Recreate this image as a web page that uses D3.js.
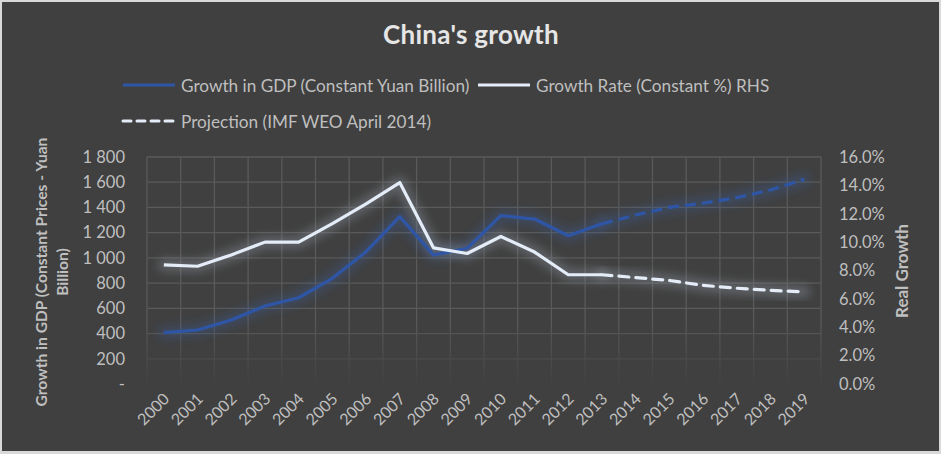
<!DOCTYPE html>
<html>
<head>
<meta charset="utf-8">
<script src="https://cdn.jsdelivr.net/npm/d3@7"></script>
<style>
  html, body { margin: 0; padding: 0; background: #d9d9d9; }
  svg { display: block; font-family: Lato, "Open Sans", sans-serif; }
</style>
</head>
<body>
<main></main>
<script>
const years = ['2000', '2001', '2002', '2003', '2004', '2005', '2006', '2007', '2008', '2009',
  '2010', '2011', '2012', '2013', '2014', '2015', '2016', '2017', '2018', '2019'];

// GDP growth, constant yuan billion
const gdpYears = years.slice(0, 14);
const gdpValues = [407, 428, 507, 618, 684, 838, 1049, 1327, 1023, 1076, 1335, 1308, 1176, 1270];
const gdpProjYears = years.slice(13);
const gdpProjValues = [1270, 1340, 1401, 1433, 1478, 1538, 1623];

// real growth rate, %
const rateYears = years.slice(0, 14);
const rateValues = [8.4, 8.3, 9.1, 10.0, 10.0, 11.3, 12.7, 14.2, 9.6, 9.2, 10.4, 9.3, 7.7, 7.7];
const rateProjYears = years.slice(13);
const rateProjValues = [7.7, 7.5, 7.3, 6.95, 6.75, 6.6, 6.5];

const leftTicks = [0, 200, 400, 600, 800, 1000, 1200, 1400, 1600, 1800];
const rightTicks = [0, 2, 4, 6, 8, 10, 12, 14, 16];

const width = 941;
const height = 454;
const plot = { left: 147, right: 821, top: 157, bottom: 384 };

const blue = '#2f56a6';
const white = '#e3ecf7';
const textColor = '#bfbfbf';

const svg = d3.select('main')
  .append('svg')
  .attr('width', width)
  .attr('height', height);

svg.append('rect')
  .attr('x', 2).attr('y', 2)
  .attr('width', width - 4).attr('height', height - 5)
  .attr('fill', '#404040');

const defs = svg.append('defs');

const fade = defs.append('linearGradient')
  .attr('id', 'fade')
  .attr('gradientUnits', 'userSpaceOnUse')
  .attr('x1', 0).attr('y1', 320).attr('x2', 0).attr('y2', 388);
fade.append('stop').attr('offset', 0).attr('stop-color', '#fff');
fade.append('stop').attr('offset', 1).attr('stop-color', '#000');
defs.append('mask')
  .attr('id', 'gridMask')
  .attr('maskUnits', 'userSpaceOnUse')
  .append('rect')
  .attr('x', 0).attr('y', 0).attr('width', width).attr('height', height)
  .attr('fill', 'url(#fade)');

defs.append('filter')
  .attr('id', 'blur')
  .attr('x', '-20%').attr('y', '-50%').attr('width', '140%').attr('height', '200%')
  .append('feGaussianBlur')
  .attr('stdDeviation', 5);

const x = d3.scalePoint()
  .domain(years)
  .range([plot.left, plot.right])
  .padding(0.5);

const step = x.step();

const yLeft = d3.scaleLinear()
  .domain([0, 1800])
  .range([plot.bottom, plot.top]);

const yRight = d3.scaleLinear()
  .domain([0, 16])
  .range([plot.bottom, plot.top]);

// grid
const grid = svg.append('g')
  .attr('mask', 'url(#gridMask)')
  .attr('stroke', '#5a5a5a')
  .attr('stroke-width', 1.3);

grid.selectAll('line.h')
  .data(leftTicks)
  .join('line')
  .attr('x1', plot.left).attr('x2', plot.right)
  .attr('y1', d => yLeft(d)).attr('y2', d => yLeft(d));

grid.selectAll('line.v')
  .data(years.concat(['end']))
  .join('line')
  .attr('x1', (d, i) => plot.left + i * step)
  .attr('x2', (d, i) => plot.left + i * step)
  .attr('y1', plot.top).attr('y2', plot.bottom);

// axes
const leftAxis = svg.append('g')
  .attr('transform', `translate(${plot.left - 22},0)`)
  .call(d3.axisLeft(yLeft).tickValues(leftTicks).tickSize(0).tickPadding(0)
    .tickFormat(d => (d === 0 ? '-' : d3.format(',')(d).replace(',', ' '))));

const rightAxis = svg.append('g')
  .attr('transform', `translate(${plot.right + 18},0)`)
  .call(d3.axisRight(yRight).tickValues(rightTicks).tickSize(0).tickPadding(0)
    .tickFormat(d => d3.format('.1f')(d) + '%'));

const bottomAxis = svg.append('g')
  .attr('transform', `translate(0,${plot.bottom + 10})`)
  .call(d3.axisBottom(x).tickSize(0).tickPadding(0));

bottomAxis.selectAll('text')
  .attr('text-anchor', 'end')
  .attr('dy', 0)
  .attr('transform', 'translate(6,6) rotate(-45)');

[leftAxis, rightAxis, bottomAxis].forEach(a => {
  a.select('.domain').remove();
  a.selectAll('text')
    .attr('fill', textColor)
    .attr('font-size', 16.5)
    .attr('font-family', 'Lato, "Open Sans", sans-serif');
});
bottomAxis.selectAll('text').attr('font-size', 16);

// lines
const lineLeft = d3.line()
  .x(d => x(d[0]))
  .y(d => yLeft(d[1]));

const lineRight = d3.line()
  .x(d => x(d[0]))
  .y(d => yRight(d[1]));

const series = [
  { data: d3.zip(gdpYears, gdpValues), gen: lineLeft, color: blue, glow: '#3a5fa8', glowOp: 0.3, dash: null },
  { data: d3.zip(gdpProjYears, gdpProjValues), gen: lineLeft, color: blue, glow: '#3a5fa8', glowOp: 0.3, dash: '11,6' },
  { data: d3.zip(rateYears, rateValues), gen: lineRight, color: white, glow: '#8e99a6', glowOp: 0.4, dash: null },
  { data: d3.zip(rateProjYears, rateProjValues), gen: lineRight, color: white, glow: '#8e99a6', glowOp: 0.4, dash: '10,7' },
];

const lines = svg.append('g')
  .attr('fill', 'none')
  .attr('stroke-linejoin', 'round');

series.forEach(s => {
  lines.append('path')
    .attr('d', s.gen(s.data))
    .attr('stroke', s.glow)
    .attr('stroke-width', 12)
    .attr('stroke-opacity', s.glowOp)
    .attr('stroke-linecap', 'round')
    .attr('filter', 'url(#blur)');
});

series.forEach(s => {
  lines.append('path')
    .attr('d', s.gen(s.data))
    .attr('stroke', s.color)
    .attr('stroke-width', 3.2)
    .attr('stroke-dasharray', s.dash)
    .attr('stroke-linecap', s.dash && s.color === white ? 'round' : 'butt');
});

// title
svg.append('text')
  .attr('x', 471)
  .attr('y', 43.5)
  .attr('text-anchor', 'middle')
  .attr('fill', '#e6e6e6')
  .attr('font-size', 26)
  .attr('letter-spacing', 0.3)
  .attr('font-weight', 'bold')
  .text("China's growth");

// legend
const legendItems = [
  { label: 'Growth in GDP (Constant Yuan Billion)', color: blue, dash: null, x: 122, y: 85 },
  { label: 'Growth Rate (Constant %) RHS', color: white, dash: null, x: 477, y: 85 },
  { label: 'Projection (IMF WEO April 2014)', color: white, dash: '8,6', x: 122, y: 121 },
];

const legend = svg.append('g');
legendItems.forEach(item => {
  legend.append('line')
    .attr('x1', item.x + 1).attr('x2', item.x + 53)
    .attr('y1', item.y).attr('y2', item.y)
    .attr('stroke', item.color)
    .attr('stroke-width', 3)
    .attr('stroke-dasharray', item.dash)
    .attr('stroke-linecap', item.dash ? 'round' : 'butt');
  legend.append('text')
    .attr('x', item.x + 59)
    .attr('y', item.y + 6.5)
    .attr('fill', textColor)
    .attr('font-size', 17.2)
    .text(item.label);
});

// axis titles
const leftTitle = svg.append('text')
  .attr('transform', 'translate(47,272) rotate(-90)')
  .attr('text-anchor', 'middle')
  .attr('fill', textColor)
  .attr('font-size', 15.6)
  .attr('font-weight', 'bold');
leftTitle.append('tspan').attr('x', 0).attr('dy', 0).text('Growth in GDP (Constant Prices - Yuan');
leftTitle.append('tspan').attr('x', 0).attr('dy', 21).text('Billion)');

svg.append('text')
  .attr('transform', 'translate(908,271) rotate(-90)')
  .attr('text-anchor', 'middle')
  .attr('fill', textColor)
  .attr('font-size', 17)
  .attr('font-weight', 'bold')
  .text('Real Growth');
</script>
</body>
</html>
